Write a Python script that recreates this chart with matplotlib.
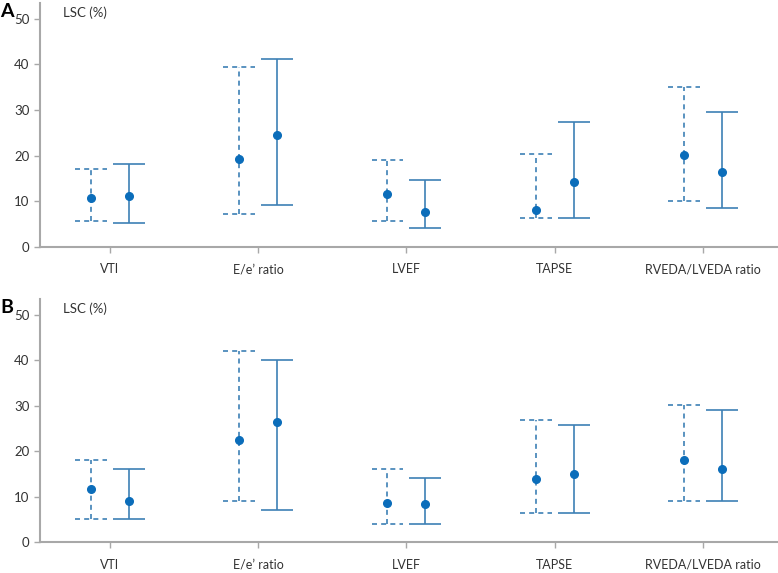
#!/usr/bin/env python3
"""LSC (%) per echo parameter, two panels with paired interval bars."""

import matplotlib.pyplot as plt
import numpy as np

plt.rcParams["font.family"] = ["Lato", "DejaVu Sans"]

CATEGORIES = ["VTI", "E/e\u2019 ratio", "LVEF", "TAPSE", "RVEDA/LVEDA ratio"]

# panel A: dashed series (first) and solid series (second)
A_DASH_MID = [10.6, 19.2, 11.6, 8.1, 20.1]
A_DASH_LOW = [5.6, 7.1, 5.6, 6.3, 10.0]
A_DASH_HIGH = [17.1, 39.4, 19.1, 20.4, 35.1]
A_SOLID_MID = [11.1, 24.6, 7.6, 14.1, 16.3]
A_SOLID_LOW = [5.3, 9.1, 4.0, 6.4, 8.6]
A_SOLID_HIGH = [18.2, 41.1, 14.6, 27.3, 29.6]

# panel B
B_DASH_MID = [11.6, 22.5, 8.7, 14.0, 18.1]
B_DASH_LOW = [5.2, 9.1, 4.1, 6.4, 9.1]
B_DASH_HIGH = [18.1, 42.0, 16.2, 26.8, 30.1]
B_SOLID_MID = [9.1, 26.4, 8.3, 15.1, 16.2]
B_SOLID_LOW = [5.2, 7.2, 4.1, 6.4, 9.1]
B_SOLID_HIGH = [16.2, 40.0, 14.1, 25.7, 29.1]

LINE = "#3d80b5"
DOT = "#0b6dba"
AXIS = "#a8a8a8"
TEXT = "#333333"


def draw_pair(ax, x, mid, low, high, style):
    mid = np.asarray(mid)
    err = [mid - np.asarray(low), np.asarray(high) - mid]
    _, caps, bars = ax.errorbar(x, mid, yerr=err, fmt="none", ecolor=LINE,
                                elinewidth=1.2, capsize=11.5, capthick=1.2)
    for c in bars:
        c.set_linestyle(style)
    if style != "-":
        # caps are markers, so mimic the dashed caps with hlines
        for c in caps:
            c.set_visible(False)
        for xi, lo, hi in zip(x, low, high):
            ax.hlines([lo, hi], xi - 0.107, xi + 0.107, colors=LINE,
                      linewidth=1.2, linestyles=(0, (3, 2.5)))
    ax.plot(x, mid, "o", color=DOT, markersize=5.5, zorder=3)


def style_panel(ax, letter):
    ax.set_xlim(-0.472, 4.5)
    ax.set_ylim(0, 53.5)
    ax.set_yticks([0, 10, 20, 30, 40, 50])
    ax.set_xticks(np.arange(len(CATEGORIES)))
    ax.set_xticklabels(CATEGORIES)
    for side in ("top", "right"):
        ax.spines[side].set_visible(False)
    for side in ("left", "bottom"):
        ax.spines[side].set_color(AXIS)
        ax.spines[side].set_linewidth(1.5)
    ax.tick_params(axis="both", colors=AXIS, labelcolor=TEXT, labelsize=9,
                   length=4, width=1)
    ax.tick_params(axis="y", labelsize=9.5)
    ax.tick_params(axis="x", pad=8)
    ax.text(0.031, 0.985, "LSC (%)", transform=ax.transAxes, fontsize=9.5,
            color=TEXT, va="top", ha="left")
    ax.text(-0.054, 1.0, letter, transform=ax.transAxes, fontsize=14,
            fontweight="bold", color="black", va="top", ha="left")


fig = plt.figure(figsize=(7.78, 5.73), dpi=100)
W, H = 778, 573
ax_a = fig.add_axes([40 / W, (H - 246.7) / H, 737 / W, 243.7 / H])
ax_b = fig.add_axes([40 / W, (H - 542.3) / H, 737 / W, 243.7 / H])

x = np.arange(len(CATEGORIES))
off = 0.128
for ax, data, letter in (
    (ax_a, (A_DASH_MID, A_DASH_LOW, A_DASH_HIGH, A_SOLID_MID, A_SOLID_LOW, A_SOLID_HIGH), "A"),
    (ax_b, (B_DASH_MID, B_DASH_LOW, B_DASH_HIGH, B_SOLID_MID, B_SOLID_LOW, B_SOLID_HIGH), "B"),
):
    dm, dl, dh, sm, sl, sh = data
    draw_pair(ax, x - off, dm, dl, dh, (0, (3, 2.5)))
    draw_pair(ax, x + off, sm, sl, sh, "-")
    style_panel(ax, letter)

fig.savefig("out.png", dpi=100)
